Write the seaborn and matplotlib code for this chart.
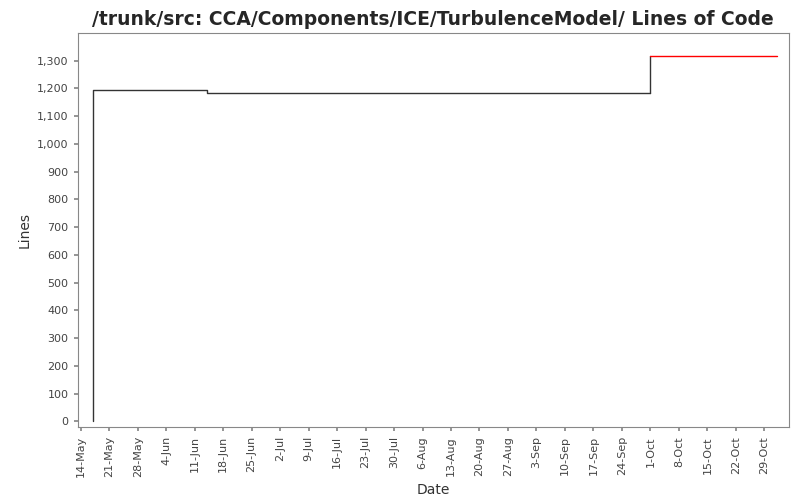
import matplotlib
matplotlib.use("Agg")
import matplotlib.pyplot as plt
import seaborn as sns
import pandas as pd

sns.set_theme(style="white")
plt.rcParams['font.family'] = ['DejaVu Sans']

dates_black = ["2007-05-17", "2007-05-17", "2007-06-14", "2007-10-01"]
lines_black = [0, 1193, 1184, 1184]
dates_red = ["2007-10-01", "2007-11-01"]
lines_red = [1318, 1318]
tick_start = "2007-05-14"
tick_end = "2007-10-29"

db = pd.DataFrame({"Date": pd.to_datetime(dates_black), "Lines": lines_black})
dr = pd.DataFrame({"Date": pd.to_datetime(dates_red), "Lines": lines_red})

fig, ax = plt.subplots(figsize=(8, 5), dpi=100)
fig.subplots_adjust(left=0.097, right=0.986, top=0.934, bottom=0.146)
sns.lineplot(data=db, x="Date", y="Lines", ax=ax, color="#333333", lw=1,
             drawstyle="steps-post", estimator=None, sort=False)
ax.plot([db["Date"].iloc[-1], dr["Date"].iloc[0]], [db["Lines"].iloc[-1], dr["Lines"].iloc[0]], color="#333333", lw=1)
sns.lineplot(data=dr, x="Date", y="Lines", ax=ax, color="red", lw=1,
             drawstyle="steps-post", estimator=None, sort=False)

ax.set_xlim(pd.Timestamp("2007-05-13 06:00"), pd.Timestamp("2007-11-04"))
ax.set_ylim(-20, 1400)
ticks = pd.date_range(tick_start, tick_end, freq="7D")
ax.set_xticks(ticks)
ax.set_xticklabels([f"{d.day}-{d.strftime('%b')}" for d in ticks], rotation=90, fontsize=8, color="#444444")
ax.set_yticks(range(0, 1301, 100))
ax.set_yticklabels([f"{v:,}" for v in range(0, 1301, 100)], fontsize=8, color="#444444")
ax.tick_params(axis="both", length=3, color="#888888", bottom=True, left=True)
for s in ax.spines.values():
    s.set_color("#888888"); s.set_linewidth(0.8)
ax.set_xlabel("Date", fontsize=10, color="#333333")
ax.set_ylabel("Lines", fontsize=10, color="#333333")
ax.set_title("/trunk/src: CCA/Components/ICE/TurbulenceModel/ Lines of Code", fontsize=13.5, fontweight="bold")
fig.savefig("out.png")
